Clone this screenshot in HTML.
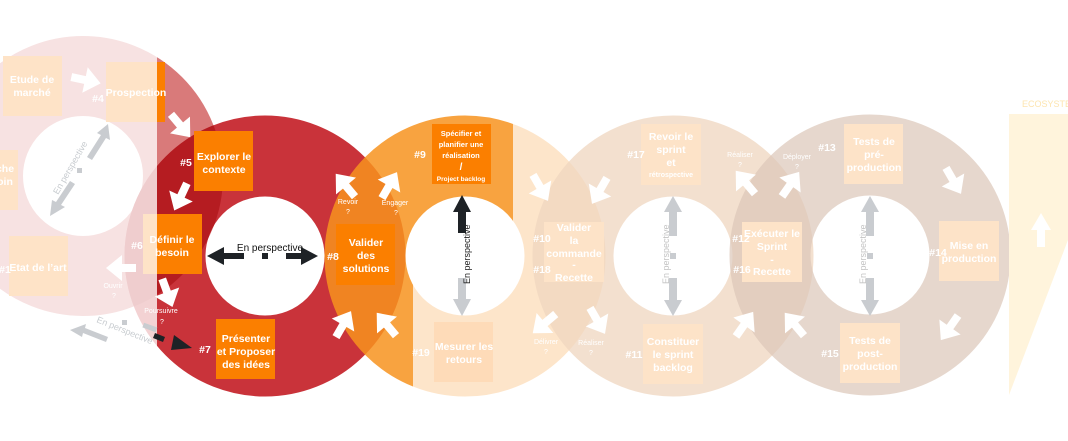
<!DOCTYPE html>
<html><head><meta charset="utf-8"><style>
html,body{margin:0;padding:0;background:#fff;width:1068px;height:441px;overflow:hidden}
svg{display:block}
text{font-family:"Liberation Sans",sans-serif}
.bt{fill:#fff;font-size:10.5px;font-weight:bold;text-anchor:middle}
.num{fill:#fff;font-size:10.5px;font-weight:bold;text-anchor:middle}
.sm{fill:#fff;font-size:7px;text-anchor:middle}
</style></head><body>
<svg width="1068" height="441" viewBox="0 0 1068 441" xmlns="http://www.w3.org/2000/svg">
<defs>
<polygon id="ar" points="-14,-4 0,-4 0,-13 16,0 0,13 0,4 -14,4" fill="#fff"/>
<clipPath id="cB"><circle cx="83" cy="176" r="140"/></clipPath>
</defs>
<circle cx="83" cy="176" r="100" fill="none" stroke="#d97a7a" stroke-width="80"/>
<circle cx="265" cy="256" r="100" fill="none" stroke="#c9333a" stroke-width="81"/>
<g clip-path="url(#cB)"><circle cx="265" cy="256" r="100" fill="none" stroke="#b51c21" stroke-width="81"/></g>
<circle cx="465" cy="256" r="100" fill="none" stroke="#f7931e" stroke-width="81" opacity="0.85"/>
<rect x="3" y="56" width="59" height="60" fill="#fb7f00"/>
<rect x="106" y="62" width="59" height="60" fill="#fb7f00"/>
<rect x="0" y="150" width="18" height="60" fill="#fb7f00"/>
<rect x="9" y="236" width="59" height="60" fill="#fb7f00"/>
<rect x="143" y="214" width="59" height="60" fill="#fb7f00"/>
<rect x="194" y="131" width="59" height="60" fill="#fb7f00"/>
<rect x="216" y="319" width="59" height="60" fill="#fb7f00"/>
<rect x="336" y="224" width="59" height="61" fill="#fb7f00"/>
<rect x="432" y="124" width="59" height="60" fill="#fb7f00"/>
<rect x="434" y="322" width="59" height="60" fill="#fb7f00"/>
<g class="bt">
<text x="32" y="83">Etude de</text><text x="32" y="96">marché</text>
<text x="136" y="96">Prospection</text>
<text x="5" y="172">che</text><text x="5" y="185">oin</text>
<text x="38" y="271">Etat de l’art</text>
<text x="172" y="243">Définir le</text><text x="172" y="256">besoin</text>
<text x="224" y="160">Explorer le</text><text x="224" y="173">contexte</text>
<text x="246" y="342">Présenter</text><text x="246" y="355">et Proposer</text><text x="246" y="368">des idées</text>
<text x="366" y="246">Valider</text><text x="366" y="259">des</text><text x="366" y="272">solutions</text>
<text x="464" y="350">Mesurer les</text><text x="464" y="363">retours</text>
</g>
<g class="bt" style="font-size:7.5px">
<text x="461" y="136">Spécifier et</text><text x="461" y="147">planifier une</text><text x="461" y="158">réalisation</text>
<text x="461" y="170" style="font-size:10px">/</text><text x="461" y="181" style="font-size:6.5px">Project backlog</text>
</g>
<g class="num"><text x="98" y="102">#4</text><text x="5" y="273">#1</text><text x="137" y="249">#6</text><text x="186" y="166">#5</text><text x="205" y="353">#7</text><text x="333" y="260">#8</text><text x="420" y="158">#9</text><text x="421" y="356">#19</text></g>
<rect x="0" y="0" width="157" height="441" fill="#fff" opacity="0.78"/>
<rect x="513" y="0" width="555" height="441" fill="#fff" opacity="0.72"/>
<rect x="413" y="253" width="100" height="188" fill="#fff" opacity="0.72"/>
<circle cx="673" cy="256" r="100" fill="none" stroke="#efd6bf" stroke-width="81" opacity="0.75"/>
<circle cx="870" cy="255" r="100" fill="none" stroke="#dcc6b8" stroke-width="81" opacity="0.7"/>
<g fill="#fde3c8">
<rect x="544" y="222" width="60" height="60"/><rect x="641" y="124" width="60" height="61"/><rect x="643" y="324" width="60" height="60"/>
<rect x="742" y="222" width="60" height="60"/><rect x="844" y="124" width="59" height="60"/><rect x="939" y="221" width="60" height="60"/><rect x="840" y="323" width="60" height="60"/>
</g>
<g class="bt">
<text x="574" y="231">Valider</text><text x="574" y="244">la</text><text x="574" y="257">commande</text><text x="574" y="268">-</text><text x="574" y="281">Recette</text>
<text x="671" y="140">Revoir le</text><text x="671" y="153">sprint</text><text x="671" y="166">et</text><text x="671" y="177" style="font-size:7px">rétrospective</text>
<text x="673" y="345">Constituer</text><text x="673" y="358">le sprint</text><text x="673" y="371">backlog</text>
<text x="772" y="237">Exécuter le</text><text x="772" y="250">Sprint</text><text x="772" y="263">-</text><text x="772" y="275">Recette</text>
<text x="874" y="145">Tests de</text><text x="874" y="158">pré-</text><text x="874" y="171">production</text>
<text x="969" y="249">Mise en</text><text x="969" y="262">production</text>
<text x="870" y="344">Tests de</text><text x="870" y="357">post-</text><text x="870" y="370">production</text>
</g>
<g class="num"><text x="542" y="242">#10</text><text x="542" y="273">#18</text><text x="636" y="158">#17</text><text x="634" y="358">#11</text><text x="741" y="242">#12</text><text x="742" y="273">#16</text><text x="827" y="151">#13</text><text x="938" y="256">#14</text><text x="830" y="357">#15</text></g>
<polygon points="1009,114 1068,114 1068,240 1009,395" fill="#fff4dc"/>
<text x="1022" y="107" style="font-size:9px;fill:#fde5b0">ECOSYSTEME</text>
<polygon points="1041,213 1051,230 1045,230 1045,247 1037,247 1037,230 1031,230" fill="#fff"/>
<use href="#ar" transform="translate(85,80) rotate(12)"/>
<use href="#ar" transform="translate(180,125) rotate(50)"/>
<use href="#ar" transform="translate(181,196) rotate(115)"/>
<use href="#ar" transform="translate(167,292) rotate(70)"/>
<use href="#ar" transform="translate(122,268) rotate(180)"/>
<use href="#ar" transform="translate(346,186) rotate(-130)"/>
<use href="#ar" transform="translate(389,186) rotate(-60)"/>
<use href="#ar" transform="translate(343,325) rotate(-60)"/>
<use href="#ar" transform="translate(387,325) rotate(-130)"/>
<use href="#ar" transform="translate(540,187) rotate(60)"/>
<use href="#ar" transform="translate(600,190) rotate(120)"/>
<use href="#ar" transform="translate(545,323) rotate(140)"/>
<use href="#ar" transform="translate(597,320) rotate(60)"/>
<use href="#ar" transform="translate(746,183) rotate(-130)"/>
<use href="#ar" transform="translate(790,185) rotate(-55)"/>
<use href="#ar" transform="translate(744,325) rotate(-55)"/>
<use href="#ar" transform="translate(795,325) rotate(-130)"/>
<use href="#ar" transform="translate(953,180) rotate(60)"/>
<use href="#ar" transform="translate(950,327) rotate(125)"/>
<g class="sm" fill="#fff">
<text x="348" y="204">Revoir</text><text x="348" y="214">?</text>
<text x="395" y="205">Engager</text><text x="396" y="215">?</text>
<text x="113" y="288">Ouvrir</text><text x="114" y="298">?</text>
<text x="161" y="313">Poursuivre</text><text x="162" y="324">?</text>
<text x="546" y="344">Délivrer</text><text x="546" y="354">?</text>
<text x="591" y="345">Réaliser</text><text x="591" y="355">?</text>
<text x="740" y="157">Réaliser</text><text x="740" y="167">?</text>
<text x="797" y="159">Déployer</text><text x="797" y="169">?</text>
</g>
<g fill="#c9ccd0">
<polygon points="108,124 110,140 106,138 92,160 87,157 101,135 97,133"/>
<polygon points="50,216 52,200 56,202 70,181 75,184 61,205 65,207"/>
<rect x="77" y="168" width="5" height="5"/>
<polygon points="70,330 86,324 85,328 108,337 106,342 83,333 82,337"/>
<rect x="122" y="320" width="5" height="5"/><rect x="143" y="325" width="14" height="5" transform="rotate(20 150 327)"/>
</g>
<text transform="translate(58,195) rotate(-60)" style="font-size:9px;fill:#c8ccd0">En perspective</text>
<text transform="translate(96,322) rotate(22)" style="font-size:9px;fill:#c8ccd0">En perspective</text>
<polygon points="155,333 165,337 163,342 153,338" fill="#1e2226"/>
<polygon points="174,335 192,348 171,350" fill="#1e2226"/>
<g fill="#1e2226">
<polygon points="207,256 224,247 224,253 244,253 244,259 224,259 224,265"/>
<polygon points="318,256 301,247 301,253 286,253 286,259 301,259 301,265"/>
<rect x="262" y="253" width="6" height="6"/>
</g>
<text x="270" y="251" text-anchor="middle" style="font-size:10px;fill:#111">En perspective</text>
<polygon points="462,195 471,212 466,212 466,233 458,233 458,212 453,212" fill="#1e2226"/>
<polygon points="462,316 471,299 466,299 466,278 458,278 458,299 453,299" fill="#c9ccd0"/>
<text transform="translate(470,284) rotate(-90)" style="font-size:9px;fill:#222">En perspective</text>
<g fill="#c9ccd0">
<polygon points="673,196 682,212 677,212 677,236 669,236 669,212 664,212"/>
<polygon points="673,316 682,300 677,300 677,278 669,278 669,300 664,300"/>
<rect x="670" y="253" width="6" height="6"/>
<polygon points="870,196 879,212 874,212 874,236 866,236 866,212 861,212"/>
<polygon points="870,316 879,300 874,300 874,278 866,278 866,300 861,300"/>
<rect x="867" y="253" width="6" height="6"/>
</g>
<text transform="translate(669,284) rotate(-90)" style="font-size:9px;fill:#c4c4c4">En perspective</text>
<text transform="translate(866,284) rotate(-90)" style="font-size:9px;fill:#c4c4c4">En perspective</text>
</svg>
</body></html>
